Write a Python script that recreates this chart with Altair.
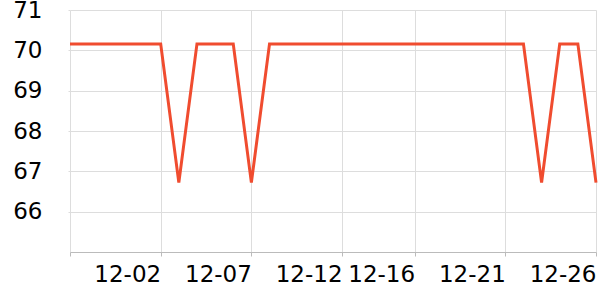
import altair as alt
import pandas as pd

dates = [
    "2023-11-27", "2023-11-28", "2023-11-29", "2023-11-30", "2023-12-01",
    "2023-12-02", "2023-12-03", "2023-12-04", "2023-12-05", "2023-12-06",
    "2023-12-07", "2023-12-08", "2023-12-09", "2023-12-10", "2023-12-11",
    "2023-12-12", "2023-12-13", "2023-12-14", "2023-12-15", "2023-12-16",
    "2023-12-17", "2023-12-18", "2023-12-19", "2023-12-20", "2023-12-21",
    "2023-12-22", "2023-12-23", "2023-12-24", "2023-12-25", "2023-12-26",
]
values = [
    70.16, 70.16, 70.16, 70.16, 70.16,
    70.16, 66.72, 70.16, 70.16, 70.16,
    66.72, 70.16, 70.16, 70.16, 70.16,
    70.16, 70.16, 70.16, 70.16, 70.16,
    70.16, 70.16, 70.16, 70.16, 70.16,
    70.16, 66.72, 70.16, 70.16, 66.72,
]
x_ticks = ["2023-11-27", "2023-12-02", "2023-12-07", "2023-12-12",
           "2023-12-16", "2023-12-21", "2023-12-26"]
y_ticks = [66, 67, 68, 69, 70, 71]
y_domain = [65, 71]

df = pd.DataFrame({"date": dates, "value": values})


def to_dt(s):
    y, m, d = (int(p) for p in s.split("-"))
    return alt.DateTime(year=y, month=m, date=d, utc=True)


FONT = "DejaVu Sans"

chart = (
    alt.Chart(df)
    .mark_line(color="#f04c2f", strokeWidth=3, strokeJoin="miter")
    .encode(
        x=alt.X(
            "date:T",
            scale=alt.Scale(type="utc"),
            axis=alt.Axis(
                title=None,
                values=[to_dt(s) for s in x_ticks],
                labelExpr="datum.index == 0 ? '' : utcFormat(datum.value, '%m-%d')",
                labelAlign="right",
                labelBaseline="top",
                labelFontSize=23,
                labelFont=FONT,
                labelColor="#000",
                labelPadding=7,
                labelOverlap=False,
                labelFlush=False,
                tickSize=4,
                tickColor="#bbb",
                domainColor="#bbb",
                gridColor="#ddd",
                grid=True,
            ),
        ),
        y=alt.Y(
            "value:Q",
            scale=alt.Scale(domain=y_domain, nice=False, zero=False),
            axis=alt.Axis(
                title=None,
                values=y_ticks,
                labelFontSize=23,
                labelFont=FONT,
                labelColor="#000",
                labelPadding=26,
                tickSize=2,
                tickColor="#ddd",
                domain=False,
                gridColor="#ddd",
                grid=True,
            ),
        ),
    )
    .properties(
        width=526,
        height=242,
        autosize=alt.AutoSizeParams(type="none"),
        padding={"left": 70, "top": 10, "right": 4, "bottom": 48},
    )
    .configure_view(stroke=None)
)

chart.save("out.html", embed_options={"renderer": "svg", "actions": False})
